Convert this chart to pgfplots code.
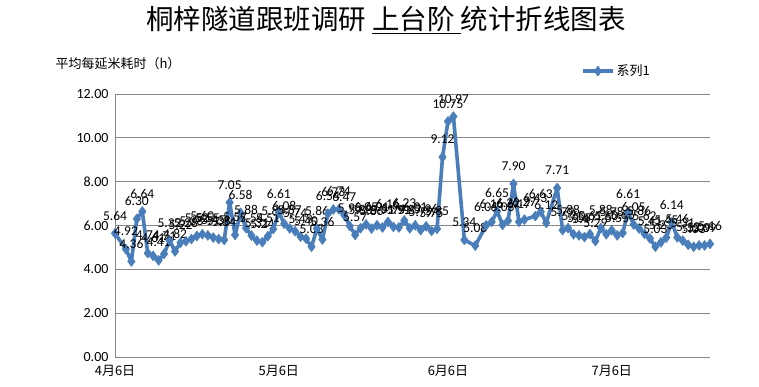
\documentclass[border=0pt]{standalone}
\usepackage{fontspec}
\setmainfont{Carlito}
\newfontfamily\cjk{Noto Sans CJK SC}
\usepackage{pgfplots}
\usepackage{pgfplotstable}
\pgfplotsset{compat=1.18}
\definecolor{serblue}{RGB}{74,126,187}
\definecolor{gridgray}{RGB}{134,134,134}

\pgfplotstableread{
day val
0 5.64
2 4.92
3 4.36
4 6.30
5 6.64
6 4.74
7 4.61
8 4.41
9 4.71
10 5.32
11 4.82
12 5.22
13 5.28
14 5.38
15 5.52
16 5.60
17 5.55
18 5.45
19 5.38
20 5.34
21 7.05
22 5.57
23 6.58
24 5.88
25 5.54
26 5.31
27 5.24
28 5.51
29 5.84
30 6.61
31 6.08
32 5.87
33 5.74
34 5.49
35 5.40
36 5.03
37 5.86
38 5.36
39 6.54
40 6.73
41 6.74
42 6.47
43 5.98
44 5.57
45 5.88
46 6.05
47 5.86
48 6.01
49 5.91
50 6.16
51 5.94
52 5.91
53 6.23
54 5.87
55 6.01
56 5.79
57 5.96
58 5.75
59 5.85
60 9.12
61 10.75
62 10.97
64 5.34
66 5.08
68 6.01
69 6.16
70 6.65
71 6.03
72 6.22
73 7.90
74 6.17
75 6.27
77 6.43
78 6.63
79 6.12
81 7.71
82 5.79
83 5.88
84 5.60
85 5.55
86 5.47
87 5.61
88 5.29
89 5.88
90 5.60
91 5.78
92 5.55
93 5.66
94 6.61
95 6.05
96 5.86
97 5.62
98 5.41
99 5.03
100 5.23
101 5.45
102 6.14
103 5.46
104 5.31
105 5.12
106 5.03
107 5.09
108 5.09
109 5.16
}\datatable

\begin{document}
\begin{tikzpicture}[x=1pt,y=1pt]
\path[use as bounding box] (0,0) rectangle (759,387);
\begin{axis}[
  at={(115pt,30pt)}, anchor=south west,
  scale only axis, width=595pt, height=263pt,
  xmin=0, xmax=109, ymin=0, ymax=12,
  ytick={0,2,4,6,8,10,12},
  xtick={0,30,61,91},
  xticklabels={4月6日,5月6日,6月6日,7月6日},
  xticklabel style={font=\cjk\fontsize{13}{13}\selectfont, yshift=-5pt},
  yticklabel style={font=\fontsize{14}{14}\selectfont, xshift=-3pt,
    /pgf/number format/fixed, /pgf/number format/fixed zerofill,
    /pgf/number format/precision=2},
  /pgf/number format/assume math mode=true,
  axis x line*=bottom, axis y line*=left,
  axis line style={gridgray, line width=0.8pt, -},
  ymajorgrids, major grid style={gridgray, line width=0.8pt},
  major tick length=0pt,
  clip=false,
  legend style={at={(0.778,1.087)}, anchor=west, draw=none, fill=none,
    font=\cjk\fontsize{13}{13}\selectfont},
  legend image code/.code={\draw[mark repeat=2,mark phase=2] plot coordinates {(0pt,0pt)(15pt,0pt)(30pt,0pt)};},
]
\addplot[serblue, line width=3.6pt, line join=round, mark=diamond*, mark size=5pt,
  mark options={solid, fill=serblue, draw=serblue, line width=0.5pt},
  nodes near coords,
  every node near coord/.append style={font=\fontsize{13.5}{13.5}\selectfont, text=black,
    anchor=south, inner sep=1pt, yshift=12pt,
    /pgf/number format/fixed, /pgf/number format/fixed zerofill,
    /pgf/number format/precision=2}
] table[x=day, y=val] {\datatable};
\addlegendentry{系列1}
\end{axis}
\node[font=\cjk\fontsize{27.5}{27.5}\selectfont] at (386,367) {桐梓隧道跟班调研 \underline{上台阶\ }统计折线图表};
\node[font=\cjk\fontsize{13}{13}\selectfont, anchor=west] at (52,323) {平均每延米耗时（h）};
\end{tikzpicture}
\end{document}
